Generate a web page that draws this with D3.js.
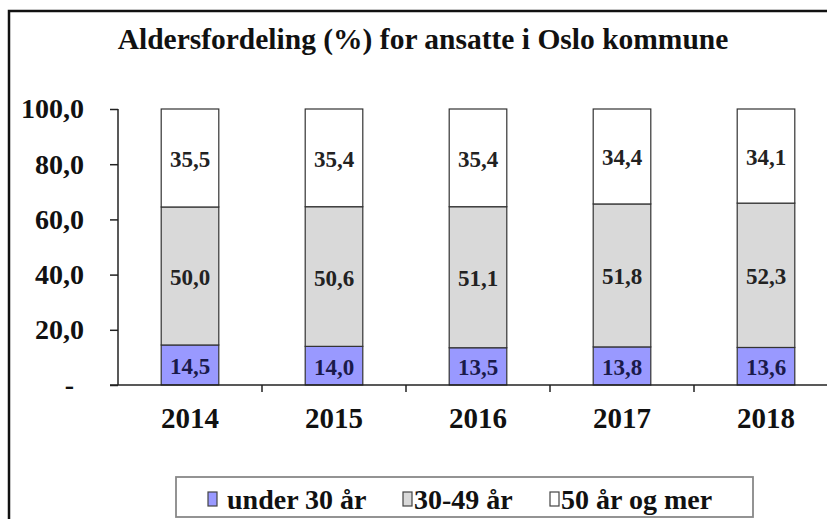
<!DOCTYPE html>
<html><head><meta charset="utf-8">
<script src="https://cdn.jsdelivr.net/npm/d3@7"></script>
<style>
html,body{margin:0;padding:0;background:#fff;}
svg text{font-family:"Liberation Serif","Times New Roman",serif;font-weight:bold;}
</style></head>
<body>
<svg id="c" width="827" height="519"></svg>
<script>
const years = ["2014","2015","2016","2017","2018"];
const under30 = [14.5, 14.0, 13.5, 13.8, 13.6];
const mid3049 = [50.0, 50.6, 51.1, 51.8, 52.3];
const over50 = [35.5, 35.4, 35.4, 34.4, 34.1];
const seriesNames = ["under 30 år", "30-49 år", "50 år og mer"];
const yTicks = [0, 20, 40, 60, 80, 100];
const yTickLabels = ["-", "20,0", "40,0", "60,0", "80,0", "100,0"];
const title = "Aldersfordeling (%) for ansatte i Oslo kommune";

const colors = ["#9999FF", "#D9D9D9", "#FFFFFF"];
const labelColors = ["#1a1a4a", "#222", "#222"];
const FF = '"Liberation Serif","Times New Roman",serif';

const svg = d3.select("#c");
// outer border
svg.append("rect").attr("x", 9).attr("y", 11).attr("width", 840).attr("height", 540)
  .attr("fill", "#fff").attr("stroke", "#111").attr("stroke-width", 2.5);

svg.append("text").attr("x", 423).attr("y", 49).attr("text-anchor", "middle")
  .attr("font-family", FF).attr("font-weight", "bold")
  .attr("font-size", 29.5).attr("fill", "#111").text(title);

const x = d3.scaleBand().domain(years).range([118, 838]).paddingInner(0.6).paddingOuter(0.3);
const xb = d3.scaleBand().domain(years).range([118, 838]);
const y = d3.scaleLinear().domain([0, 100]).range([385, 109]);

const rows = years.map((yr, i) => ({year: yr, s0: under30[i], s1: mid3049[i], s2: over50[i]}));
const stack = d3.stack().keys(["s0", "s1", "s2"])(rows);
const fmt = v => d3.format(".1f")(v).replace(".", ",");

const g = svg.append("g");
stack.forEach((layer, k) => {
  g.selectAll(null).data(layer).enter().append("rect")
    .attr("x", d => x(d.data.year))
    .attr("width", x.bandwidth())
    .attr("y", d => y(d[1]))
    .attr("height", d => y(d[0]) - y(d[1]))
    .attr("fill", colors[k]).attr("stroke", "#333").attr("stroke-width", 1.2);
  g.selectAll(null).data(layer).enter().append("text")
    .attr("x", d => x(d.data.year) + x.bandwidth() / 2)
    .attr("y", d => (y(d[0]) + y(d[1])) / 2 + 9)
    .attr("text-anchor", "middle").attr("font-size", 23)
    .attr("font-family", FF).attr("font-weight", "bold")
    .attr("fill", labelColors[k])
    .text(d => fmt(d[1] - d[0]));
});

// y axis
const yAxis = d3.axisLeft(y).tickValues(yTicks).tickSize(8).tickFormat((d, i) => yTickLabels[i]);
const ya = svg.append("g").attr("transform", "translate(118,0)").call(yAxis);
ya.select(".domain").attr("stroke", "#222").attr("stroke-width", 1.5).attr("d", "M0,109V385");
ya.selectAll(".tick line").attr("stroke", "#222").attr("stroke-width", 1.5);
ya.selectAll(".tick text").attr("font-size", 28).attr("fill", "#111")
  .attr("font-family", FF).attr("font-weight", "bold")
  .attr("x", d => d === 0 ? -44 : -34).attr("dy", "0.32em");

// x axis
svg.append("line").attr("x1", 110).attr("x2", 840).attr("y1", 385).attr("y2", 385)
  .attr("stroke", "#222").attr("stroke-width", 1.5);
svg.selectAll(null).data(years.slice(1)).enter().append("line")
  .attr("x1", d => xb(d)).attr("x2", d => xb(d)).attr("y1", 385).attr("y2", 392)
  .attr("stroke", "#222").attr("stroke-width", 1.5);
svg.selectAll(null).data(years).enter().append("text")
  .attr("x", d => xb(d) + xb.bandwidth() / 2).attr("y", 428)
  .attr("font-family", FF).attr("font-weight", "bold")
  .attr("text-anchor", "middle").attr("font-size", 29).attr("fill", "#111").text(d => d);

// legend
const lg = svg.append("g");
lg.append("rect").attr("x", 176).attr("y", 477).attr("width", 577).attr("height", 40)
  .attr("fill", "#fff").attr("stroke", "#888").attr("stroke-width", 1.8);
const legX = [208, 403, 550];
seriesNames.forEach((n, i) => {
  lg.append("rect").attr("x", legX[i]).attr("y", 492).attr("width", 9).attr("height", 14)
    .attr("fill", colors[i]).attr("stroke", "#444").attr("stroke-width", 1.2);
  lg.append("text").attr("x", legX[i] + (i === 0 ? 19 : 11)).attr("y", 509)
    .attr("font-family", FF).attr("font-weight", "bold")
    .attr("font-size", 28).attr("fill", "#111").text(n);
});
</script>
</body></html>
